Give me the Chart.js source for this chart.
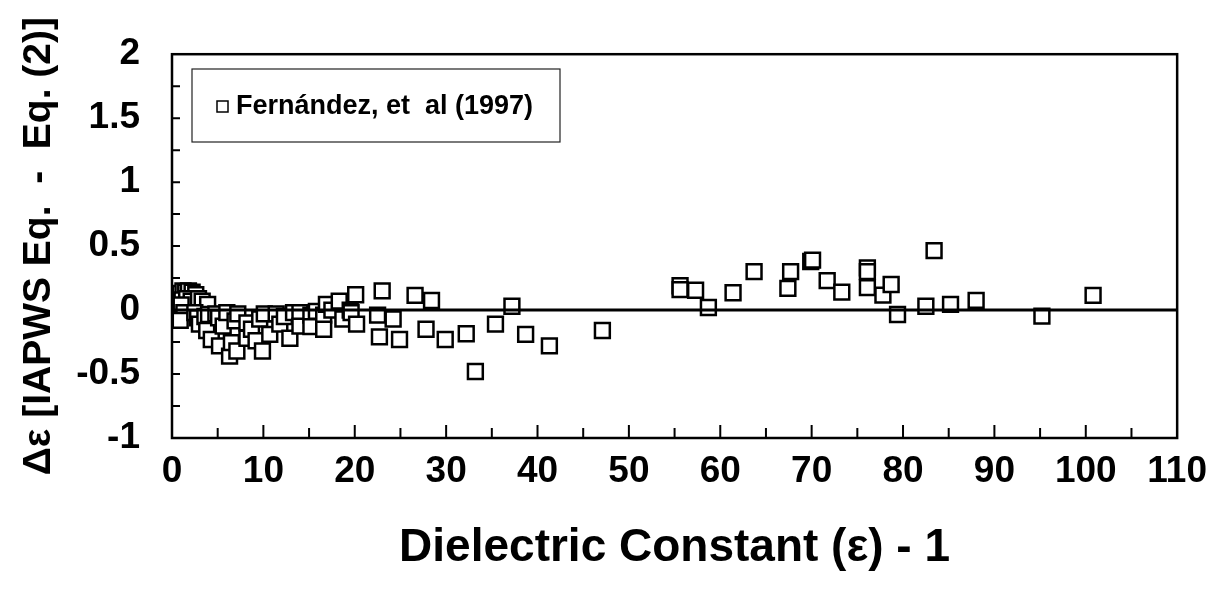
<!DOCTYPE html>
<html>
<head>
<meta charset="utf-8">
<script src="https://cdn.jsdelivr.net/npm/chart.js@4/dist/chart.umd.min.js"></script>
<style>
  html, body { margin: 0; padding: 0; background: #fff; }
</style>
</head>
<body>
<canvas id="chart" width="1219" height="592"></canvas>
<script>
(function(){
    'use strict';

    // Fernández et al (1997) deviations
    const dielectric = [
        0.9, 1.2, 1.5, 1.8, 2.2, 2.6, 1.1, 1.6, 2.1, 2.9, 3.3, 3.9, 1.0, 1.3, 0.9,
        2.5, 2.8, 3.0, 3.6, 4.0, 3.8, 4.3, 4.8, 5.1, 5.2, 5.6, 6.0,
        6.3, 6.5, 6.9, 7.1, 7.2, 8.2, 8.2, 8.7, 9.2, 9.6, 9.9, 10.1, 10.7, 11.4,
        11.8, 12.3, 12.9, 13.3, 14.0, 14.0, 15.2, 15.2, 15.8, 16.6, 16.6, 16.9, 17.5,
        18.3, 18.7, 19.5, 19.6, 20.1, 20.2, 22.5, 22.7, 23.0, 24.2, 24.9, 26.6, 27.8,
        28.4, 29.9, 32.2, 33.2, 35.4, 37.2, 38.7, 41.3, 47.1,
        55.6, 55.6, 57.3, 58.7, 61.4, 63.7, 67.4, 67.7, 69.9, 70.1, 71.7, 73.3,
        76.1, 76.1, 76.1, 77.8, 78.7, 79.4, 82.5, 83.4, 85.2, 88.0, 95.2, 100.8
    ];
    const deltaEps = [
        0.13, 0.15, 0.14, 0.15, 0.14, 0.12, 0.08, 0.09, 0.07, 0.09, 0.07, 0.045, 0.04, -0.02, -0.08,
        -0.02, -0.06, -0.11, -0.05, -0.035, -0.16, -0.23, -0.03, -0.06, -0.28, -0.125, -0.02,
        -0.36, -0.255, -0.085, -0.32, -0.03, -0.1, -0.22, -0.15, -0.24, -0.07, -0.32, -0.03, -0.19, -0.03,
        -0.11, -0.05, -0.22, -0.02, -0.02, -0.125, -0.04, -0.13, -0.01, -0.04, -0.15, 0.045, 0.0,
        0.07, -0.07, 0.0, -0.02, 0.12, -0.11, -0.04, -0.21, 0.15, -0.07, -0.23, 0.115, -0.15,
        0.075, -0.23, -0.185, -0.48, -0.11, 0.03, -0.19, -0.28, -0.16,
        0.19, 0.16, 0.155, 0.02, 0.135, 0.30, 0.17, 0.30, 0.38, 0.39, 0.23, 0.14,
        0.33, 0.30, 0.175, 0.117, 0.2, -0.035, 0.03, 0.465, 0.045, 0.076, -0.047, 0.115
    ];
    const zeroLineX = [0, 110];
    const zeroLineY = [0, 0];
    const seriesLabel = 'Fernández, et  al (1997)';
    const xTitle = 'Dielectric Constant (\u03b5) - 1';
    const yTitle = '\u0394\u03b5 [IAPWS Eq.  -  Eq. (2)]';

    const FONT = '"Liberation Sans", Arial, sans-serif';

    const points = dielectric.map((x, i) => ({x: x, y: deltaEps[i]}));
    const zeroLine = zeroLineX.map((x, i) => ({x: x, y: zeroLineY[i]}));

    // frame, inward tick marks and the boxed legend
    const framePlugin = {
        id: 'frame',
        afterDraw(chart){
            const ctx = chart.ctx;
            const a = chart.chartArea;
            const xs = chart.scales.x;
            const ys = chart.scales.y;
            ctx.save();
            ctx.strokeStyle = '#000';
            ctx.lineWidth = 2.5;
            ctx.strokeRect(a.left, a.top, a.right - a.left, a.bottom - a.top);

            ctx.lineWidth = 2;
            ctx.beginPath();
            for(let v = 5; v < 110; v += 5){
                const px = xs.getPixelForValue(v);
                const len = (v % 10 === 0) ? 13 : 10;
                ctx.moveTo(px, a.bottom);
                ctx.lineTo(px, a.bottom - len);
            }
            for(let v = -0.75; v < 2; v += 0.25){
                const py = ys.getPixelForValue(v);
                ctx.moveTo(a.left, py);
                ctx.lineTo(a.left + 8, py);
            }
            ctx.stroke();

            // legend
            ctx.lineWidth = 1.2;
            ctx.strokeStyle = '#222';
            ctx.strokeRect(192, 69, 368, 73);
            ctx.lineWidth = 1.5;
            ctx.strokeStyle = '#000';
            ctx.strokeRect(217, 101, 11, 11);
            ctx.fillStyle = '#000';
            ctx.font = 'bold 27px ' + FONT;
            ctx.textBaseline = 'middle';
            ctx.fillText(seriesLabel, 236, 107);
            ctx.restore();
        }
    };

    new Chart(document.getElementById('chart'), {
        type: 'scatter',
        data: {
            datasets: [
                {
                    type: 'line',
                    data: zeroLine,
                    borderColor: '#000',
                    borderWidth: 3,
                    pointRadius: 0,
                    order: 0
                },
                {
                    label: seriesLabel,
                    data: points,
                    pointStyle: 'rect',
                    pointRadius: 10.5,
                    borderWidth: 2.5,
                    borderColor: '#000',
                    backgroundColor: '#fff',
                    order: 1
                }
            ]
        },
        options: {
            responsive: false,
            animation: false,
            devicePixelRatio: 1,
            layout: { padding: { left: 0, top: 54, right: 39, bottom: 0 } },
            plugins: {
                legend: { display: false },
                tooltip: { enabled: false }
            },
            scales: {
                x: {
                    type: 'linear',
                    min: 0,
                    max: 110,
                    afterFit(scale){ scale.height = 154; },
                    grid: { display: false, drawTicks: false },
                    border: { display: false },
                    ticks: {
                        stepSize: 10,
                        padding: 12,
                        color: '#000',
                        font: { family: FONT, size: 37, weight: 'bold' }
                    },
                    title: {
                        display: true,
                        text: xTitle,
                        color: '#000',
                        padding: { top: 0, bottom: 16 },
                        font: { family: FONT, size: 46, weight: 'bold' }
                    }
                },
                y: {
                    type: 'linear',
                    min: -1,
                    max: 2,
                    afterFit(scale){ scale.width = 172; },
                    grid: { display: false, drawTicks: false },
                    border: { display: false },
                    ticks: {
                        stepSize: 0.5,
                        padding: 32,
                        color: '#000',
                        font: { family: FONT, size: 37, weight: 'bold' },
                        callback: v => String(Number(v.toFixed(2)))
                    },
                    title: {
                        display: true,
                        text: yTitle,
                        color: '#000',
                        padding: { top: 16, bottom: 0 },
                        font: { family: FONT, size: 39, weight: 'bold' }
                    }
                }
            }
        },
        plugins: [framePlugin]
    });
})();
</script>
</body>
</html>
